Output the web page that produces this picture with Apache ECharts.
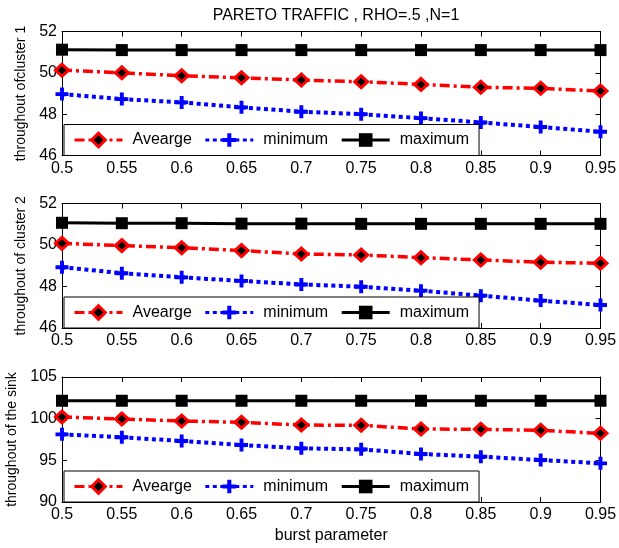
<!DOCTYPE html>
<html><head><meta charset="utf-8">
<script src="https://cdn.jsdelivr.net/npm/echarts@6/dist/echarts.min.js"></script>
<style>html,body{margin:0;padding:0;background:#fff}#c{width:619px;height:548px}</style>
</head><body><div id="c"></div>
<script>
const xVals = [0.5,0.55,0.6,0.65,0.7,0.75,0.8,0.85,0.9,0.95];
const seriesNames = ['Avearge','minimum','maximum'];
const yLabels = ['throughout ofcluster 1','throughout of cluster 2','throughout of the sink'];
const titleText = 'PARETO TRAFFIC , RHO=.5 ,N=1';
const xLabel = 'burst parameter';

const c1Avg = [50.13,50.0,49.86,49.76,49.65,49.57,49.44,49.3,49.25,49.12];
const c1Min = [48.97,48.73,48.57,48.33,48.12,48.0,47.81,47.6,47.38,47.15];
const c1Max = [51.12,51.1,51.1,51.1,51.1,51.1,51.1,51.1,51.1,51.1];

const c2Avg = [50.08,49.97,49.87,49.73,49.57,49.52,49.39,49.28,49.17,49.12];
const c2Min = [48.93,48.64,48.44,48.27,48.1,47.99,47.8,47.56,47.32,47.11];
const c2Max = [51.07,51.05,51.05,51.03,51.03,51.02,51.02,51.02,51.02,51.02];

const skAvg = [100.2,99.96,99.72,99.56,99.24,99.2,98.76,98.72,98.6,98.24];
const skMin = [98.12,97.77,97.32,96.84,96.44,96.32,95.76,95.44,95.04,94.64];
const skMax = [102.15,102.15,102.15,102.15,102.15,102.15,102.15,102.15,102.15,102.15];

const yRanges = [[46,52,2],[46,52,2],[90,105,5]];
const panels = [[c1Avg,c1Min,c1Max],[c2Avg,c2Min,c2Max],[skAvg,skMin,skMax]];

const FONT = 'Liberation Sans';
const grids = [
  {left:62, right:18.5, top:31.5, height:124, outerBoundsMode:'none', containLabel:false},
  {left:62, right:18.5, top:203.5, height:124.5, outerBoundsMode:'none', containLabel:false},
  {left:62, right:18.5, top:377, height:125, outerBoundsMode:'none', containLabel:false}
];
const nameGaps = [34, 34, 43];
const plusPath = 'path://M3.5,0 H6.5 V3.5 H10 V6.5 H6.5 V10 H3.5 V6.5 H0 V3.5 H3.5 Z';

const xAxes = [], yAxes = [], series = [], legends = [];
grids.forEach((g, i) => {
  const axisLine = {show:true, onZero:false, lineStyle:{color:'#000', width:1}};
  const tick = {show:true, inside:true, length:5, lineStyle:{color:'#000', width:1}};
  xAxes.push({type:'value', gridIndex:i, position:'bottom', min:0.5, max:0.95, interval:0.05,
    axisLine, axisTick:tick, splitLine:{show:false},
    axisLabel:{color:'#000', fontFamily:FONT, fontSize:16, margin:5, formatter:v => String(+v.toFixed(2))},
    name: i === 2 ? xLabel : '', nameLocation:'middle', nameGap:26,
    nameTextStyle:{color:'#000', fontFamily:FONT, fontSize:16}});
  xAxes.push({type:'value', gridIndex:i, position:'top', min:0.5, max:0.95, interval:0.05,
    axisLine, axisTick:tick, axisLabel:{show:false}, splitLine:{show:false}});
  const [mn, mx, iv] = yRanges[i];
  yAxes.push({type:'value', gridIndex:i, position:'left', min:mn, max:mx, interval:iv,
    axisLine, axisTick:tick, splitLine:{show:false},
    axisLabel:{color:'#000', fontFamily:FONT, fontSize:16, margin:5},
    name:yLabels[i], nameLocation:'middle', nameGap:nameGaps[i], nameRotate:90,
    nameTextStyle:{color:'#000', fontFamily:FONT, fontSize:14}});
  yAxes.push({type:'value', gridIndex:i, position:'right', min:mn, max:mx, interval:iv,
    axisLine, axisTick:tick, axisLabel:{show:false}, splitLine:{show:false}});

  const [avg, mnv, mxv] = panels[i];
  const mk = arr => arr.map((v, k) => [xVals[k], v]);
  series.push({name:seriesNames[0], type:'line', xAxisIndex:2*i, yAxisIndex:2*i, data:mk(avg),
    symbol:'diamond', symbolSize:[13,12], clip:false, z:3,
    lineStyle:{color:'#f00', width:3.5, type:[10,4,3,4]},
    itemStyle:{color:'#000', borderColor:'#f00', borderWidth:3}});
  series.push({name:seriesNames[1], type:'line', xAxisIndex:2*i, yAxisIndex:2*i, data:mk(mnv),
    symbol:plusPath, symbolSize:13, clip:false, z:2,
    lineStyle:{color:'#00f', width:4, type:[4,3.5]},
    itemStyle:{color:'#00f'}});
  series.push({name:seriesNames[2], type:'line', xAxisIndex:2*i, yAxisIndex:2*i, data:mk(mxv),
    symbol:'rect', symbolSize:12, clip:false, z:2,
    lineStyle:{color:'#000', width:3, type:'solid'},
    itemStyle:{color:'#000'}});

  legends.push({
    left:64, top:g.top + g.height - 31, orient:'horizontal',
    backgroundColor:'#fff', borderColor:'#000', borderWidth:1, borderRadius:0,
    padding:[7,10,7,9], itemWidth:48, itemHeight:17, itemGap:12,
    lineStyle:{width:3},
    textStyle:{color:'#000', fontFamily:FONT, fontSize:16, lineHeight:17, padding:[0,0,0,5]},
    selectedMode:false,
    data:[
      {name:seriesNames[0], itemStyle:{borderWidth:3, borderColor:'#f00', color:'#000'}},
      {name:seriesNames[1]},
      {name:seriesNames[2]}
    ]
  });
});

const chart = echarts.init(document.getElementById('c'), null, {renderer:'canvas'});
chart.setOption({
  backgroundColor:'#fff',
  animation:false,
  title:{text:titleText, left:331, textAlign:'center', top:3,
    textStyle:{color:'#000', fontFamily:FONT, fontSize:16, fontWeight:'normal'}},
  grid:grids,
  xAxis:xAxes,
  yAxis:yAxes,
  legend:legends,
  series
});
</script>
</body></html>
